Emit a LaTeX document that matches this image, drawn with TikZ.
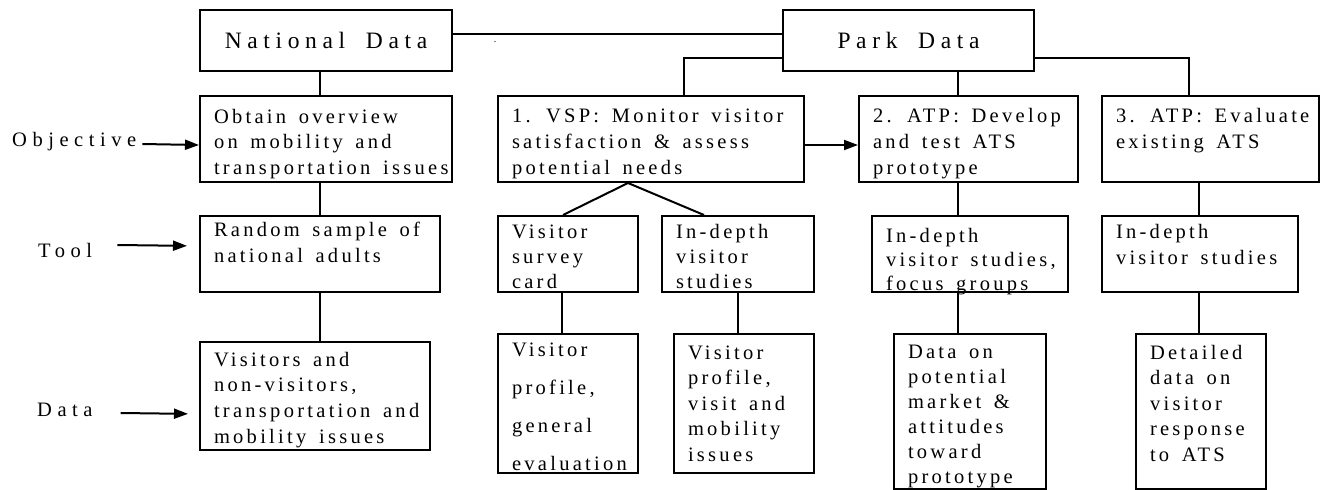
\documentclass[tikz,border=0pt]{standalone}
\usepackage{fontspec}
\setmainfont{Liberation Serif}[LetterSpace=16,WordSpace=1.5]
\newfontfamily\headfont{Liberation Serif}[LetterSpace=24,WordSpace=1.8]
\newfontfamily\sidefont{Liberation Serif}[LetterSpace=27]
\usetikzlibrary{arrows.meta}
\newcommand{\boxtext}[5]{\parbox[c][#2pt][t]{#1pt}{\fontsize{20.5pt}{#4pt}\selectfont\raggedright\leftskip=14pt\rule{0pt}{#3pt}#5}}

\begin{document}
\begin{tikzpicture}[x=1pt,y=-1pt,
    blk/.style={draw, line width=2pt, anchor=north west, inner sep=0pt},
    head/.style={blk, font=\headfont\fontsize{23.5pt}{28pt}\selectfont},
    side/.style={anchor=base west, inner sep=0pt, font=\sidefont\fontsize{20.5pt}{25pt}\selectfont},
    arr/.style={line width=2pt, -{Triangle[length=14pt,width=10pt]}},
    link/.style={line width=2pt}]
    \useasboundingbox (0,0) rectangle (1326,490);
    \node[head, minimum width=252pt, minimum height=61pt] (nat) at (199,9) {National Data};
    \node[head, minimum width=251pt, minimum height=61pt] (park) at (782,9) {Park Data};
    \node[anchor=base, inner sep=0pt] (dot) at (495,42) {.};
    \node[blk] (obj) at (199,95) {\boxtext{252}{86}{27}{25.5}{Obtain overview\\on mobility and\\transportation issues}};
    \node[blk] (rnd) at (199,215) {\boxtext{240}{76}{20}{26}{Random sample of\\national adults}};
    \node[blk] (vtr) at (199,341) {\boxtext{230}{108}{24}{25.7}{Visitors and\\non-visitors,\\transportation and\\mobility issues}};
    \node[blk] (vsp) at (497,95) {\boxtext{306}{86}{26}{26}{1. VSP: Monitor visitor\\satisfaction \& assess\\potential needs}};
    \node[blk] (atp2) at (858,95) {\boxtext{219}{86}{26}{26}{2. ATP: Develop\\and test ATS\\prototype}};
    \node[blk] (atp3) at (1101,95) {\boxtext{217}{86}{26}{26}{3. ATP: Evaluate\\existing ATS}};
    \node[blk] (card) at (497,215) {\boxtext{140}{76}{22}{25}{Visitor\\survey\\card}};
    \node[blk] (ind1) at (661,215) {\boxtext{152}{76}{22}{25}{In-depth\\visitor\\studies}};
    \node[blk] (ind2) at (871,215) {\boxtext{196}{76}{26}{24}{In-depth\\visitor studies,\\focus groups}};
    \node[blk] (ind3) at (1101,215) {\boxtext{196}{76}{22}{26}{In-depth\\visitor studies}};
    \node[blk] (prof1) at (497,333) {\boxtext{140}{139}{22}{38}{Visitor\\profile,\\general\\evaluation}};
    \node[blk] (prof2) at (673,333) {\boxtext{140}{139}{25}{25.5}{Visitor\\profile,\\visit and\\mobility\\issues}};
    \node[blk] (pot) at (893,333) {\boxtext{152}{155}{24}{25}{Data on\\potential\\market \&\\attitudes\\toward\\prototype}};
    \node[blk] (det) at (1135,333) {\boxtext{130}{155}{25}{25.5}{Detailed\\data on\\visitor\\response\\to ATS}};
    \node[side] (objl) at (12,146) {Objective};
    \node[side] (tooll) at (38,257) {Tool};
    \node[side] (datal) at (37,416) {Data};
    \draw[arr] ([xshift=6pt,yshift=2pt]objl.base east) -- ([yshift=-6pt]obj.west);
    \draw[arr, shorten >=12pt] ([xshift=25pt,yshift=12pt]tooll.base east) -- ([yshift=8pt]rnd.west);
    \draw[arr, shorten >=11pt] ([xshift=28pt,yshift=3pt]datal.base east) -- ([yshift=-18pt]vtr.west);
    \draw[arr] ([yshift=-6pt]vsp.east) -- ([yshift=-6pt]atp2.west);
    \draw[link] ([yshift=6.5pt]nat.east) -- ([yshift=6.5pt]park.west);
    \draw[link] ([yshift=-17.5pt]park.west) -| ([xshift=33pt]vsp.north);
    \draw[link] ([xshift=49.5pt]park.south) -- ([xshift=-10.5pt]atp2.north);
    \draw[link] ([yshift=-17.5pt]park.east) -| ([xshift=-21.5pt]atp3.north);
    \draw[link] ([xshift=-6pt]nat.south) -- ([xshift=-6pt]obj.north);
    \draw[link] ([xshift=-6pt]obj.south) -- (rnd.north);
    \draw[link] (rnd.south) -- ([xshift=5pt]vtr.north);
    \draw[link] ([xshift=-23pt]vsp.south) -- ([xshift=-5pt]card.north);
    \draw[link] ([xshift=-23pt]vsp.south) -- ([xshift=-34pt]ind1.north);
    \draw[link] ([xshift=-6pt]card.south) -- ([xshift=-6pt]prof1.north);
    \draw[link] (ind1.south) -- ([xshift=-6pt]prof2.north);
    \draw[link] ([xshift=-10.5pt]atp2.south) -- ([xshift=-12pt]ind2.north);
    \draw[link] ([xshift=-12pt]ind2.south) -- ([xshift=-12pt]pot.north);
    \draw[link] ([xshift=-11.5pt]atp3.south) -- ([xshift=-1pt]ind3.north);
    \draw[link] ([xshift=-1pt]ind3.south) -- ([xshift=-2pt]det.north);
\end{tikzpicture}
\end{document}
